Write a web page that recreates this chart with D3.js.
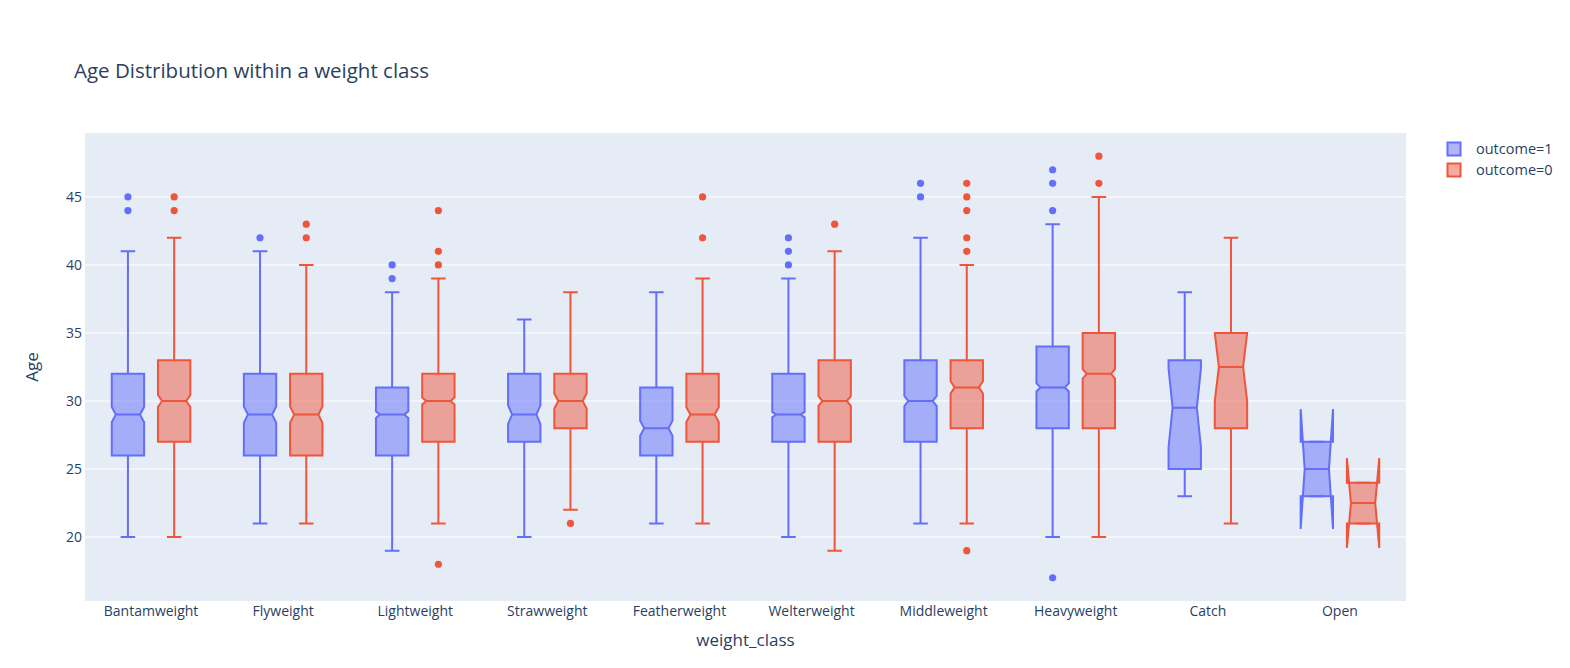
<!DOCTYPE html>
<html>
<head>
<meta charset="utf-8">
<script src="https://cdn.jsdelivr.net/npm/d3@7"></script>
<style>
  body { margin: 0; background: #fff; }
  text { font-family: "Open Sans", verdana, arial, sans-serif; }
</style>
</head>
<body>
<svg id="chart" width="1570" height="668"></svg>
<script>
var categories = ["Bantamweight", "Flyweight", "Lightweight", "Strawweight", "Featherweight",
                  "Welterweight", "Middleweight", "Heavyweight", "Catch", "Open"];
var yTicks = [20, 25, 30, 35, 40, 45];

// outcome=1
var q1One     = [26, 26, 26, 27, 26, 27, 27, 28, 25, 23];
var medianOne = [29, 29, 29, 29, 28, 29, 30, 31, 29.5, 25];
var q3One     = [32, 32, 31, 32, 31, 32, 33, 34, 33, 27];
var lowOne    = [20, 21, 19, 20, 21, 20, 21, 20, 23, 23];
var highOne   = [41, 41, 38, 36, 38, 39, 42, 43, 38, 27];
var notchOne  = [0.56, 0.6, 0.25, 0.68, 0.55, 0.2, 0.37, 0.3, 2.9, 4.4];
var outOne    = [[45, 44], [42], [40, 39], [], [], [42, 41, 40], [46, 45], [47, 46, 44, 17], [], []];

// outcome=0
var q1Zero     = [27, 26, 27, 28, 27, 27, 28, 28, 28, 21];
var medianZero = [30, 29, 30, 30, 29, 30, 31, 32, 32.5, 22.5];
var q3Zero     = [33, 32, 32, 32, 32, 33, 33, 35, 35, 24];
var lowZero    = [20, 21, 21, 22, 21, 19, 21, 20, 21, 21];
var highZero   = [42, 40, 39, 38, 39, 41, 40, 45, 42, 24];
var notchZero  = [0.44, 0.6, 0.25, 0.55, 0.55, 0.35, 0.45, 0.35, 2.5, 3.3];
var outZero    = [[45, 44], [43, 42], [44, 41, 40, 18], [21], [45, 42], [43], [46, 45, 44, 42, 41, 19], [48, 46], [], []];

var seriesNames = ["outcome=1", "outcome=0"];
var colors = ["#636efa", "#EF553B"];

(function() {
  function build(q1, med, q3, lo, hi, notch, out) {
    return categories.map(function(c, i) {
      return {cat: c, q1: q1[i], med: med[i], q3: q3[i], lo: lo[i], hi: hi[i], notch: notch[i], out: out[i]};
    });
  }
  var series = [
    build(q1One, medianOne, q3One, lowOne, highOne, notchOne, outOne),
    build(q1Zero, medianZero, q3Zero, lowZero, highZero, notchZero, outZero)
  ];

  var svg = d3.select("#chart");
  var pl = 85, pr = 1406, pt = 133, pb = 601;

  var x = d3.scaleBand().domain(categories).range([pl, pr]).padding(0);
  var y = d3.scaleLinear().domain([15.3, 49.7]).range([pb, pt]);

  // plot background
  svg.append("rect")
    .attr("x", pl).attr("y", pt)
    .attr("width", pr - pl).attr("height", pb - pt)
    .attr("fill", "#E5ECF6");

  // grid
  svg.append("g").selectAll("line").data(yTicks).enter().append("line")
    .attr("x1", pl).attr("x2", pr)
    .attr("y1", function(d) { return y(d); }).attr("y2", function(d) { return y(d); })
    .attr("stroke", "#fff").attr("stroke-width", 1);

  // y tick labels
  svg.append("g").selectAll("text").data(yTicks).enter().append("text")
    .attr("x", pl - 3).attr("y", function(d) { return y(d); })
    .attr("dy", "0.35em").attr("text-anchor", "end")
    .attr("font-size", 14).attr("fill", "#2a3f5f")
    .text(function(d) { return d; });

  // x tick labels
  svg.append("g").selectAll("text").data(categories).enter().append("text")
    .attr("x", function(d) { return x(d) + x.bandwidth() / 2; })
    .attr("y", 616).attr("text-anchor", "middle")
    .attr("font-size", 14).attr("fill", "#2a3f5f")
    .text(function(d) { return d; });

  // box geometry, plotly style grouping
  var slot = x.bandwidth() * (1 - 0.3) / 2;
  var half = slot * (1 - 0.3) / 2;
  var whisk = half * 0.45;
  var nIn = half * 0.25;

  series.forEach(function(data, s) {
    var off = (s === 0 ? -1 : 1) * slot / 2;
    var g = svg.append("g");
    data.forEach(function(d) {
      var c = x(d.cat) + x.bandwidth() / 2 + off;
      var p0 = c - half, p1 = c + half;
      var m = y(d.med), a = y(d.q1), b = y(d.q3);
      var ln = y(d.med - d.notch), un = y(d.med + d.notch);
      var path = "M" + p0 + "," + a + "V" + ln + "L" + (p0 + nIn) + "," + m + "L" + p0 + "," + un +
                 "V" + b + "H" + p1 + "V" + un + "L" + (p1 - nIn) + "," + m + "L" + p1 + "," + ln +
                 "V" + a + "Z" +
                 "M" + (p0 + nIn) + "," + m + "H" + (p1 - nIn);
      var wpath = "M" + c + "," + a + "V" + y(d.lo) + "M" + c + "," + b + "V" + y(d.hi) +
                  "M" + (c - whisk) + "," + y(d.lo) + "H" + (c + whisk) +
                  "M" + (c - whisk) + "," + y(d.hi) + "H" + (c + whisk);
      g.append("path").attr("d", wpath).attr("fill", "none")
        .attr("stroke", colors[s]).attr("stroke-width", 2);
      g.append("path").attr("d", path)
        .attr("fill", colors[s]).attr("fill-opacity", 0.5)
        .attr("stroke", colors[s]).attr("stroke-width", 2);
      g.selectAll(null).data(d.out).enter().append("circle")
        .attr("cx", c).attr("cy", function(v) { return y(v); })
        .attr("r", 3.6).attr("fill", colors[s]);
    });
  });

  // title
  svg.append("text").attr("x", 74).attr("y", 78)
    .attr("font-size", 20.5).attr("fill", "#2a3f5f")
    .text("Age Distribution within a weight class");

  // axis titles
  svg.append("text").attr("x", (pl + pr) / 2).attr("y", 646)
    .attr("text-anchor", "middle").attr("font-size", 17).attr("fill", "#2a3f5f")
    .text("weight_class");
  svg.append("text")
    .attr("transform", "translate(38," + ((pt + pb) / 2) + ") rotate(-90)")
    .attr("text-anchor", "middle").attr("font-size", 17).attr("fill", "#2a3f5f")
    .text("Age");

  // legend
  var leg = svg.append("g").selectAll("g").data(seriesNames).enter().append("g")
    .attr("transform", function(d, i) { return "translate(1454," + (149 + i * 21) + ")"; });
  leg.append("rect").attr("x", -6.5).attr("y", -6.5).attr("width", 13).attr("height", 13)
    .attr("fill", function(d, i) { return colors[i]; }).attr("fill-opacity", 0.5)
    .attr("stroke", function(d, i) { return colors[i]; }).attr("stroke-width", 2);
  leg.append("text").attr("x", 22).attr("dy", "0.35em")
    .attr("font-size", 14.5).attr("fill", "#2a3f5f")
    .text(function(d) { return d; });
})();
</script>
</body>
</html>
